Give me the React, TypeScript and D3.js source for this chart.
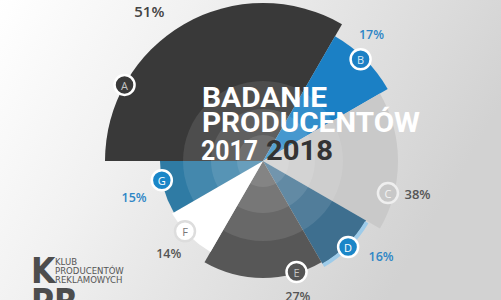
import React from "react";
import * as d3 from "d3";

// ---- data ----
const categories = ["A", "B", "C", "D", "E", "F", "G"];
const values = [51, 17, 38, 16, 27, 14, 15];
const angularWeights = [4, 1, 2, 1, 2, 1, 1];
const titleLines = ["BADANIE", "PRODUCENTÓW"];
const years = ["2017", "2018"];
const logoLines = ["KLUB", "PRODUCENTÓW", "REKLAMOWYCH"];

// ---- styling / layout ----
const W = 501;
const H = 300;
const cx = 263;
const cy = 161;
const outerRadii = [158, 144, 135, 119, 117, 105, 103];
const fills = ["#393939", "#1b80c5", "#c9c9c9", "#3e6f8f", "#575757", "#ffffff", "#2f7ba4"];
const badgeFill = ["#3a3a3a", "#1b80c5", "#c8c8c8", "#1a86c8", "#555555", "#ffffff", "#1a86c8"];
const badgeStroke = ["#ffffff", "#ffffff", "#efefef", "#ffffff", "#ffffff", "#dddddd", "#ffffff"];
const badgeText = ["#c4c4c4", "#d8eaf7", "#f4f4f4", "#ffffff", "#c4c4c4", "#777777", "#ffffff"];
const badgeFrac = [0.24, 0.46, 0.74, 0.51, 0.22, 0.6, 0.64];
const badgeInset = [0, 3, 6, -2, 1, 0, 0];
const pctColor = ["#444444", "#2f86c6", "#555555", "#2f86c6", "#555555", "#555555", "#2f86c6"];
const pctFrac = [0.44, 0.35, 0.7, 0.3, 0.26, 0.52, 0.47];
const pctPad = [30, 23, 23, 33, 23, 27, 31];
const pctSize = [15, 12.5, 13, 12.5, 12.5, 12.5, 12.5];

export default function App() {
  const pie = d3
    .pie<number>()
    .sort(null)
    .startAngle(-Math.PI / 2)
    .endAngle((3 * Math.PI) / 2)
    .value((_d, i) => angularWeights[i]);
  const arcs = pie(values);
  const rScale = d3.scaleOrdinal<string, number>().domain(categories).range(outerRadii);
  const arc = d3.arc<d3.PieArcDatum<number>>().innerRadius(0);

  const polar = (a: number, r: number): [number, number] => [cx + r * Math.sin(a), cy - r * Math.cos(a)];

  const dIdx = 3;
  const dArc = arcs[dIdx];
  const bandPath = d3.arc()({
    innerRadius: rScale(categories[dIdx]) - 0.5,
    outerRadius: rScale(categories[dIdx]) + 3.5,
    startAngle: dArc.startAngle + 0.01,
    endAngle: dArc.endAngle,
  } as any) as string;

  return (
    <svg width={W} height={H} style={{ position: "absolute", left: 0, top: 0 }} xmlns="http://www.w3.org/2000/svg">
      <defs>
        <linearGradient id="bg" x1="0" y1="0" x2="1" y2="0.35">
          <stop offset="0" stopColor="#ffffff" />
          <stop offset="0.35" stopColor="#f1f1f1" />
          <stop offset="1" stopColor="#d2d2d2" />
        </linearGradient>
      </defs>
      <rect width={W} height={H} fill="url(#bg)" />
      <g transform={`translate(${cx},${cy})`}>
        {arcs.map((a, i) => (
          <path
            key={categories[i]}
            d={arc.outerRadius(rScale(categories[i]))(a) as string}
            fill={fills[i]}
          />
        ))}
        <path d={bandPath} fill="#9dcbe9" />
        {[80, 52, 26].map((r) => (
          <circle key={r} r={r} fill="#ffffff" fillOpacity={0.1} />
        ))}
      </g>
      {/* title */}
      <g fontFamily="Roboto, 'Open Sans', sans-serif" fontWeight={700} fontSize={28}>
        <text x={202} y={107} fill="#ffffff" textLength={125} lengthAdjust="spacingAndGlyphs">
          {titleLines[0]}
        </text>
        <text x={202} y={132} fill="#ffffff" textLength={218} lengthAdjust="spacingAndGlyphs">
          {titleLines[1]}
        </text>
        <text x={201} y={160} fill="#ffffff" textLength={57} lengthAdjust="spacingAndGlyphs">
          {years[0]}
        </text>
        <text x={266} y={160} fill="#333333" textLength={67} lengthAdjust="spacingAndGlyphs">
          {years[1]}
        </text>
      </g>
      {/* badges */}
      {arcs.map((a, i) => {
        const ang = a.startAngle + badgeFrac[i] * (a.endAngle - a.startAngle);
        const [x, y] = polar(ang, rScale(categories[i]) - badgeInset[i]);
        return (
          <g key={"b" + i}>
            <circle cx={x} cy={y} r={10} fill={badgeFill[i]} stroke={badgeStroke[i]} strokeWidth={2.5} />
            <text
              x={x}
              y={y + 0.5}
              textAnchor="middle"
              dominantBaseline="central"
              fontFamily="'Open Sans', sans-serif"
              fontSize={11}
              fill={badgeText[i]}
            >
              {categories[i]}
            </text>
          </g>
        );
      })}
      {/* percent labels */}
      {arcs.map((a, i) => {
        const ang = a.startAngle + pctFrac[i] * (a.endAngle - a.startAngle);
        const [x, y] = polar(ang, rScale(categories[i]) + pctPad[i]);
        return (
          <text
            key={"p" + i}
            x={x}
            y={y}
            textAnchor="middle"
            dominantBaseline="central"
            fontFamily="'Open Sans', sans-serif"
            fontWeight={600}
            fontSize={pctSize[i]}
            fill={pctColor[i]}
          >
            {values[i]}%
          </text>
        );
      })}
      {/* logo */}
      <g fill="#4d4d4d">
        <text x={31} y={283} fontFamily="'Liberation Sans Narrow', 'DejaVu Sans Condensed', sans-serif" fontWeight={700} fontSize={35}>
          K
        </text>
        <text x={31} y={314} fontFamily="'Liberation Sans Narrow', 'DejaVu Sans Condensed', sans-serif" fontWeight={700} fontSize={35}>
          PR
        </text>
        {logoLines.map((t, i) => (
          <text
            key={t}
            x={55}
            y={265 + i * 9}
            fontFamily="'Liberation Sans Narrow', 'DejaVu Sans Condensed', sans-serif"
            fontSize={9.5}
            fill="#555"
          >
            {t}
          </text>
        ))}
      </g>
    </svg>
  );
}
